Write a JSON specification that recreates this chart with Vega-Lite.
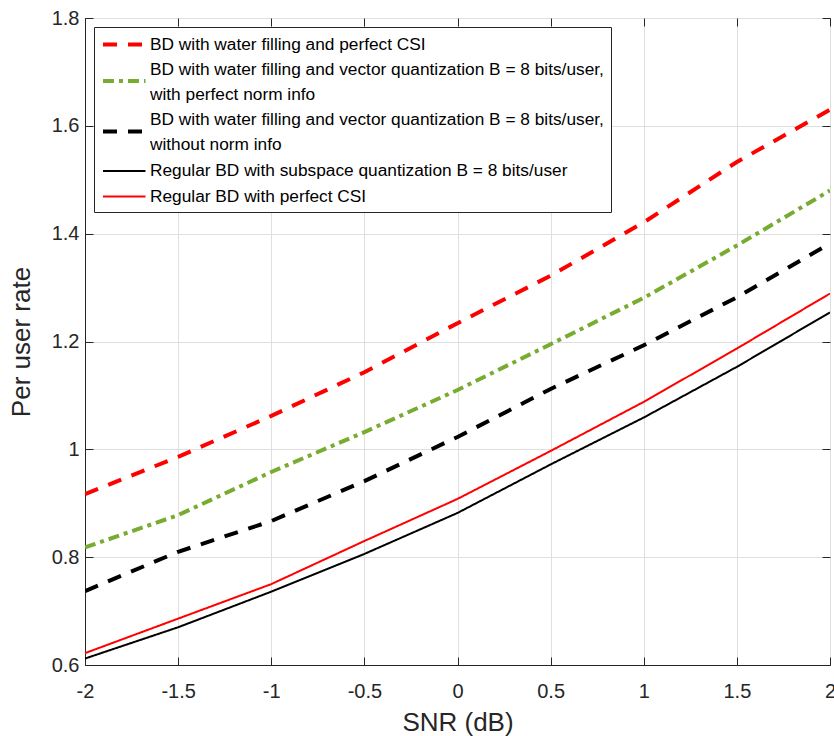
{
  "$schema": "https://vega.github.io/schema/vega-lite/v6.json",
  "width": 745,
  "height": 647,
  "autosize": {"type": "none"},
  "padding": {"left": 85, "top": 18, "right": 4, "bottom": 71},
  "background": "white",
  "config": {
    "font": "Liberation Sans",
    "view": {"stroke": "#262626", "strokeWidth": 1},
    "axis": {
      "labelFont": "Liberation Sans",
      "titleFont": "Liberation Sans",
      "labelColor": "#262626",
      "titleColor": "#262626",
      "domainColor": "#262626",
      "tickColor": "#262626",
      "gridColor": "#dfdfdf",
      "gridWidth": 1,
      "labelFontSize": 20,
      "titleFontSize": 26,
      "titleFontWeight": "normal"
    }
  },
  "data": {
    "values": [
      {"series": "BD with water filling and perfect CSI", "snr": -2, "rate": 0.917},
      {"series": "BD with water filling and perfect CSI", "snr": -1.5, "rate": 0.986},
      {"series": "BD with water filling and perfect CSI", "snr": -1, "rate": 1.062},
      {"series": "BD with water filling and perfect CSI", "snr": -0.5, "rate": 1.143},
      {"series": "BD with water filling and perfect CSI", "snr": 0, "rate": 1.234},
      {"series": "BD with water filling and perfect CSI", "snr": 0.5, "rate": 1.322},
      {"series": "BD with water filling and perfect CSI", "snr": 1, "rate": 1.421},
      {"series": "BD with water filling and perfect CSI", "snr": 1.5, "rate": 1.533},
      {"series": "BD with water filling and perfect CSI", "snr": 2, "rate": 1.630},
      {"series": "BD with water filling and vector quantization B = 8 bits/user, with perfect norm info", "snr": -2, "rate": 0.818},
      {"series": "BD with water filling and vector quantization B = 8 bits/user, with perfect norm info", "snr": -1.5, "rate": 0.878},
      {"series": "BD with water filling and vector quantization B = 8 bits/user, with perfect norm info", "snr": -1, "rate": 0.958},
      {"series": "BD with water filling and vector quantization B = 8 bits/user, with perfect norm info", "snr": -0.5, "rate": 1.032},
      {"series": "BD with water filling and vector quantization B = 8 bits/user, with perfect norm info", "snr": 0, "rate": 1.110},
      {"series": "BD with water filling and vector quantization B = 8 bits/user, with perfect norm info", "snr": 0.5, "rate": 1.195},
      {"series": "BD with water filling and vector quantization B = 8 bits/user, with perfect norm info", "snr": 1, "rate": 1.281},
      {"series": "BD with water filling and vector quantization B = 8 bits/user, with perfect norm info", "snr": 1.5, "rate": 1.378},
      {"series": "BD with water filling and vector quantization B = 8 bits/user, with perfect norm info", "snr": 2, "rate": 1.480},
      {"series": "BD with water filling and vector quantization B = 8 bits/user, without norm info", "snr": -2, "rate": 0.737},
      {"series": "BD with water filling and vector quantization B = 8 bits/user, without norm info", "snr": -1.5, "rate": 0.810},
      {"series": "BD with water filling and vector quantization B = 8 bits/user, without norm info", "snr": -1, "rate": 0.867},
      {"series": "BD with water filling and vector quantization B = 8 bits/user, without norm info", "snr": -0.5, "rate": 0.941},
      {"series": "BD with water filling and vector quantization B = 8 bits/user, without norm info", "snr": 0, "rate": 1.023},
      {"series": "BD with water filling and vector quantization B = 8 bits/user, without norm info", "snr": 0.5, "rate": 1.112},
      {"series": "BD with water filling and vector quantization B = 8 bits/user, without norm info", "snr": 1, "rate": 1.193},
      {"series": "BD with water filling and vector quantization B = 8 bits/user, without norm info", "snr": 1.5, "rate": 1.282},
      {"series": "BD with water filling and vector quantization B = 8 bits/user, without norm info", "snr": 2, "rate": 1.382},
      {"series": "Regular BD with subspace quantization B = 8 bits/user", "snr": -2, "rate": 0.612},
      {"series": "Regular BD with subspace quantization B = 8 bits/user", "snr": -1.5, "rate": 0.670},
      {"series": "Regular BD with subspace quantization B = 8 bits/user", "snr": -1, "rate": 0.736},
      {"series": "Regular BD with subspace quantization B = 8 bits/user", "snr": -0.5, "rate": 0.806},
      {"series": "Regular BD with subspace quantization B = 8 bits/user", "snr": 0, "rate": 0.882},
      {"series": "Regular BD with subspace quantization B = 8 bits/user", "snr": 0.5, "rate": 0.972},
      {"series": "Regular BD with subspace quantization B = 8 bits/user", "snr": 1, "rate": 1.059},
      {"series": "Regular BD with subspace quantization B = 8 bits/user", "snr": 1.5, "rate": 1.153},
      {"series": "Regular BD with subspace quantization B = 8 bits/user", "snr": 2, "rate": 1.254},
      {"series": "Regular BD with perfect CSI", "snr": -2, "rate": 0.622},
      {"series": "Regular BD with perfect CSI", "snr": -1.5, "rate": 0.686},
      {"series": "Regular BD with perfect CSI", "snr": -1, "rate": 0.750},
      {"series": "Regular BD with perfect CSI", "snr": -0.5, "rate": 0.830},
      {"series": "Regular BD with perfect CSI", "snr": 0, "rate": 0.908},
      {"series": "Regular BD with perfect CSI", "snr": 0.5, "rate": 0.997},
      {"series": "Regular BD with perfect CSI", "snr": 1, "rate": 1.088},
      {"series": "Regular BD with perfect CSI", "snr": 1.5, "rate": 1.187},
      {"series": "Regular BD with perfect CSI", "snr": 2, "rate": 1.289}
    ]
  },
  "resolve": {"axis": {"x": "independent", "y": "independent"}},
  "layer": [
    {
      "mark": {"type": "line", "strokeCap": "butt", "clip": true},
      "encoding": {
        "x": {
          "field": "snr", "type": "quantitative",
          "scale": {"domain": [-2, 2], "nice": false, "zero": false},
          "axis": {
            "title": "SNR (dB)",
            "values": [-2, -1.5, -1, -0.5, 0, 0.5, 1, 1.5, 2],
            "labelExpr": "'' + datum.value",
            "tickSize": -8,
            "labelPadding": 24,
            "titlePadding": 8,
            "labelFlush": false,
            "domain": true,
            "grid": true
          }
        },
        "y": {
          "field": "rate", "type": "quantitative",
          "scale": {"domain": [0.6, 1.8], "nice": false, "zero": false},
          "axis": {
            "title": "Per user rate",
            "values": [0.6, 0.8, 1, 1.2, 1.4, 1.6, 1.8],
            "labelExpr": "'' + datum.value",
            "tickSize": -8,
            "labelPadding": 14,
            "titlePadding": 17,
            "labelFlush": false,
            "grid": true
          }
        },
        "color": {
          "field": "series", "type": "nominal",
          "scale": {
            "domain": [
              "BD with water filling and perfect CSI",
              "BD with water filling and vector quantization B = 8 bits/user, with perfect norm info",
              "BD with water filling and vector quantization B = 8 bits/user, without norm info",
              "Regular BD with subspace quantization B = 8 bits/user",
              "Regular BD with perfect CSI"
            ],
            "range": ["#ff0000", "#77ac30", "#000000", "#000000", "#ff0000"]
          },
          "legend": {
            "title": null,
            "orient": "top-left",
            "offset": 9,
            "fillColor": "white",
            "strokeColor": "#262626",
            "padding": 7,
            "symbolType": "M -1 0 L 4 0",
            "symbolSize": 289,
            "labelFont": "Liberation Sans",
            "labelFontSize": 17.3,
            "labelColor": "#000000",
            "labelOffset": 28,
            "labelLimit": 0,
            "rowPadding": 7.5,
            "labelExpr": "indexof(datum.label, 'user, w') >= 0 ? split(replace(datum.label, 'user, w', 'user,|w'), '|') : datum.label",
            "encode": {
              "labels": {
                "update": {
                  "lineHeight": {"value": 25},
                  "dy": {"signal": "indexof(datum.value, 'user, w') >= 0 ? -11.5 : 0"}
                }
              }
            }
          }
        },
        "strokeDash": {
          "field": "series", "type": "nominal",
          "scale": {
            "domain": [
              "BD with water filling and perfect CSI",
              "BD with water filling and vector quantization B = 8 bits/user, with perfect norm info",
              "BD with water filling and vector quantization B = 8 bits/user, without norm info",
              "Regular BD with subspace quantization B = 8 bits/user",
              "Regular BD with perfect CSI"
            ],
            "range": [[14, 11], [11, 5, 4, 5], [14, 11], [1, 0], [1, 0]]
          }
        },
        "strokeWidth": {
          "field": "series", "type": "nominal",
          "scale": {
            "type": "ordinal",
            "domain": [
              "BD with water filling and perfect CSI",
              "BD with water filling and vector quantization B = 8 bits/user, with perfect norm info",
              "BD with water filling and vector quantization B = 8 bits/user, without norm info",
              "Regular BD with subspace quantization B = 8 bits/user",
              "Regular BD with perfect CSI"
            ],
            "range": [4, 4, 4, 2, 2]
          }
        }
      }
    },
    {
      "mark": {"type": "line", "strokeOpacity": 0},
      "encoding": {
        "detail": {"field": "series", "type": "nominal"},
        "x": {
          "field": "snr", "type": "quantitative",
          "axis": {
            "orient": "top", "title": null, "labels": false, "grid": false, "domain": false,
            "values": [-2, -1.5, -1, -0.5, 0, 0.5, 1, 1.5, 2],
            "tickSize": -8
          }
        },
        "y": {
          "field": "rate", "type": "quantitative",
          "axis": {
            "orient": "right", "title": null, "labels": false, "grid": false, "domain": false,
            "values": [0.6, 0.8, 1, 1.2, 1.4, 1.6, 1.8],
            "tickSize": -8
          }
        }
      }
    }
  ]
}
